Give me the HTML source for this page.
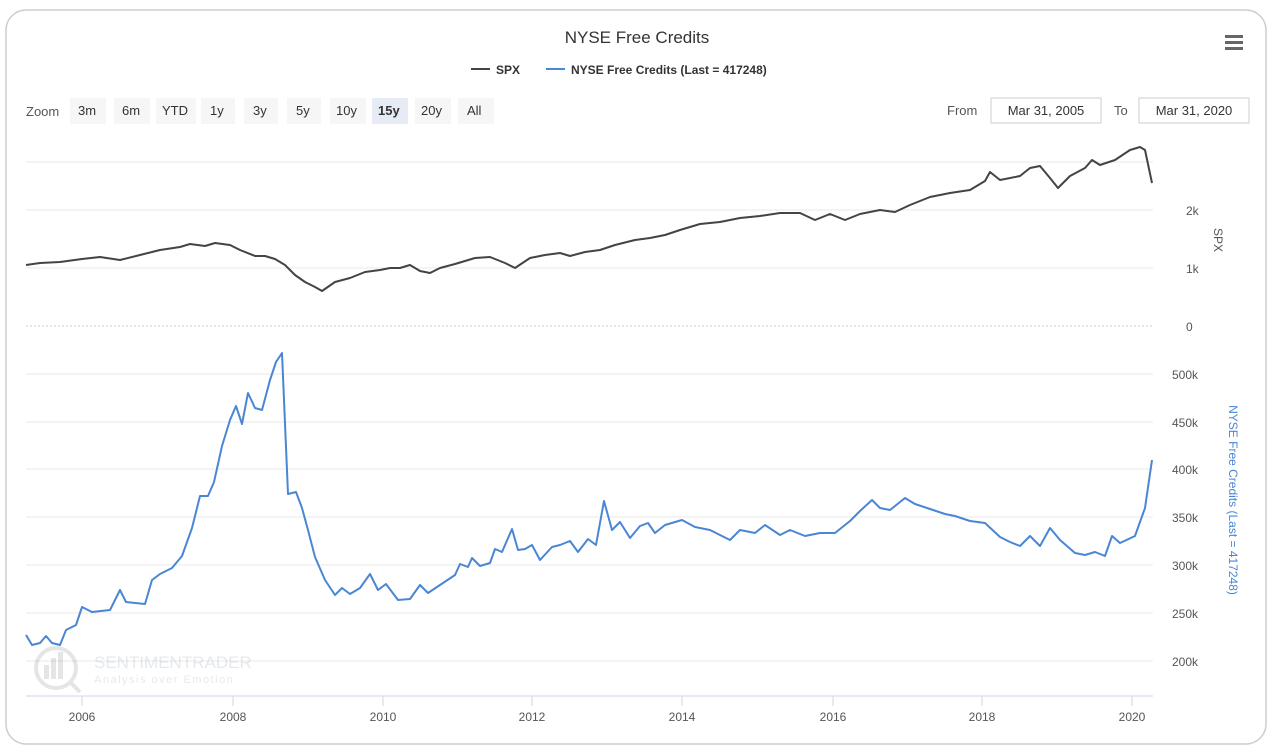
<!DOCTYPE html>
<html><head><meta charset="utf-8"><style>
body{margin:0;background:#fff;font-family:"Liberation Sans",sans-serif;}
</style></head><body>
<svg width="1274" height="748" xmlns="http://www.w3.org/2000/svg" font-family="Liberation Sans, sans-serif">
<rect x="6" y="10" width="1260" height="734" rx="20" fill="#fff" stroke="#c8ced3" stroke-width="1.5"/>
<text x="637" y="43" text-anchor="middle" font-size="17" fill="#333">NYSE Free Credits</text>
<line x1="471" y1="69" x2="490" y2="69" stroke="#434348" stroke-width="2"/>
<text x="496" y="74" font-size="12" font-weight="bold" fill="#333">SPX</text>
<line x1="546" y1="69" x2="565" y2="69" stroke="#4a86d4" stroke-width="2"/>
<text x="571" y="74" font-size="12" font-weight="bold" fill="#333">NYSE Free Credits (Last = 417248)</text>
<g fill="#666"><rect x="1225" y="35" width="18" height="3"/><rect x="1225" y="41" width="18" height="3"/><rect x="1225" y="47" width="18" height="3"/></g>
<g font-size="13" fill="#333">
<text x="26" y="116" fill="#555">Zoom</text>
<g fill="#f6f6f6"><rect x="70" y="98" width="36" height="26"/><rect x="114" y="98" width="36" height="26"/><rect x="156" y="98" width="40" height="26"/><rect x="201" y="98" width="34" height="26"/><rect x="244" y="98" width="34" height="26"/><rect x="287" y="98" width="34" height="26"/><rect x="330" y="98" width="36" height="26"/><rect x="372" y="98" width="36" height="26" fill="#e6ebf5"/><rect x="415" y="98" width="36" height="26"/><rect x="458" y="98" width="36" height="26"/></g>
<text x="78" y="115">3m</text><text x="122" y="115">6m</text><text x="162" y="115">YTD</text><text x="210" y="115">1y</text><text x="253" y="115">3y</text><text x="296" y="115">5y</text><text x="336" y="115">10y</text><text x="378" y="115" font-weight="bold">15y</text><text x="421" y="115">20y</text><text x="467" y="115">All</text>
<text x="947" y="115" fill="#555">From</text>
<rect x="991" y="98" width="110" height="25" fill="#fff" stroke="#ccc"/>
<text x="1046" y="115" text-anchor="middle">Mar 31, 2005</text>
<text x="1114" y="115" fill="#555">To</text>
<rect x="1139" y="98" width="110" height="25" fill="#fff" stroke="#ccc"/>
<text x="1194" y="115" text-anchor="middle">Mar 31, 2020</text>
</g>
<g stroke="#e8e8e8" stroke-width="1">
<line x1="26" y1="162" x2="1153" y2="162"/><line x1="26" y1="210" x2="1153" y2="210"/><line x1="26" y1="268" x2="1153" y2="268"/>
<line x1="26" y1="326" x2="1153" y2="326" stroke-dasharray="2,2" stroke="#ccc"/>
<line x1="26" y1="374" x2="1153" y2="374"/><line x1="26" y1="422" x2="1153" y2="422"/><line x1="26" y1="469" x2="1153" y2="469"/><line x1="26" y1="517" x2="1153" y2="517"/><line x1="26" y1="565" x2="1153" y2="565"/><line x1="26" y1="613" x2="1153" y2="613"/><line x1="26" y1="661" x2="1153" y2="661"/>
<line x1="26" y1="696" x2="1153" y2="696" stroke="#ccd6eb"/>
</g>
<g stroke="#ccd6eb"><line x1="82" y1="696" x2="82" y2="706"/><line x1="233" y1="696" x2="233" y2="706"/><line x1="383" y1="696" x2="383" y2="706"/><line x1="532" y1="696" x2="532" y2="706"/><line x1="682" y1="696" x2="682" y2="706"/><line x1="833" y1="696" x2="833" y2="706"/><line x1="982" y1="696" x2="982" y2="706"/><line x1="1132" y1="696" x2="1132" y2="706"/></g>
<g font-size="12" fill="#555" text-anchor="middle">
<text x="82" y="721">2006</text><text x="233" y="721">2008</text><text x="383" y="721">2010</text><text x="532" y="721">2012</text><text x="682" y="721">2014</text><text x="833" y="721">2016</text><text x="982" y="721">2018</text><text x="1132" y="721">2020</text>
</g>
<g font-size="12" fill="#555">
<text x="1186" y="215">2k</text><text x="1186" y="273">1k</text><text x="1186" y="331">0</text>
<text x="1172" y="379">500k</text><text x="1172" y="427">450k</text><text x="1172" y="474">400k</text><text x="1172" y="522">350k</text><text x="1172" y="570">300k</text><text x="1172" y="618">250k</text><text x="1172" y="666">200k</text>
</g>
<text transform="translate(1214,240) rotate(90)" font-size="12" fill="#555" text-anchor="middle">SPX</text>
<text transform="translate(1229,500) rotate(90)" font-size="12" fill="#4a86d4" text-anchor="middle">NYSE Free Credits (Last = 417248)</text>
<g opacity="0.25">
<circle cx="56" cy="668" r="20" fill="none" stroke="#999" stroke-width="4"/>
<rect x="44" y="665" width="5" height="14" fill="#999"/><rect x="51" y="658" width="5" height="21" fill="#999"/><rect x="58" y="652" width="5" height="27" fill="#999"/>
<line x1="70" y1="682" x2="80" y2="692" stroke="#999" stroke-width="4"/>
<text x="94" y="668" font-size="17" fill="#9ab">SENTIMENTRADER</text>
<text x="94" y="683" font-size="11" fill="#9ab" letter-spacing="1.5">Analysis over Emotion</text>
</g>
<polyline fill="none" stroke="#434348" stroke-width="2" stroke-linejoin="round" points="26,265 40,263 60,262 82,259 100,257 120,260 140,255 160,250 180,247 190,244 205,246 215,243 230,245 240,250 255,256 265,256 275,259 285,265 295,275 305,282 315,287 322,291 335,282 350,278 365,272 380,270 390,268 400,268 410,265 420,271 430,273 440,268 455,264 475,258 490,257 505,263 515,268 530,258 545,255 560,253 570,256 585,252 600,250 615,245 635,240 650,238 665,235 680,230 700,224 720,222 740,218 760,216 780,213 800,213 815,220 830,214 845,220 860,214 880,210 895,212 910,205 930,197 950,193 970,190 985,181 990,172 1000,180 1020,176 1030,168 1040,166 1050,178 1058,188 1070,176 1085,168 1092,160 1100,165 1115,160 1130,150 1140,147 1145,150 1152,183"/>
<polyline fill="none" stroke="#4a86d4" stroke-width="2" stroke-linejoin="round" points="26,635 32,645 40,643 46,636 52,643 60,645 66,630 76,625 82,607 92,612 110,610 120,590 126,602 145,604 152,580 160,574 172,568 182,556 192,528 200,496 208,496 214,482 222,446 230,420 236,406 242,424 248,393 255,408 262,410 270,380 276,362 282,353 288,494 296,492 302,508 308,530 315,557 325,580 335,595 342,588 350,594 360,588 370,574 378,590 386,584 398,600 410,599 420,585 428,593 440,585 455,575 460,564 468,567 472,558 480,566 490,563 495,549 502,552 512,529 518,550 525,549 532,545 540,560 552,547 560,545 570,541 578,552 588,539 596,545 604,501 612,530 620,522 630,538 640,526 648,523 655,533 665,525 682,520 695,527 710,530 720,535 730,540 740,530 755,533 765,525 780,535 790,530 805,536 820,533 835,533 850,521 860,511 872,500 880,508 890,510 905,498 915,504 930,509 945,514 955,516 970,521 985,523 1000,537 1010,542 1020,546 1030,536 1040,546 1050,528 1060,540 1075,553 1085,555 1095,552 1105,556 1112,536 1120,543 1135,536 1145,508 1152,460"/>
</svg>
</body></html>
